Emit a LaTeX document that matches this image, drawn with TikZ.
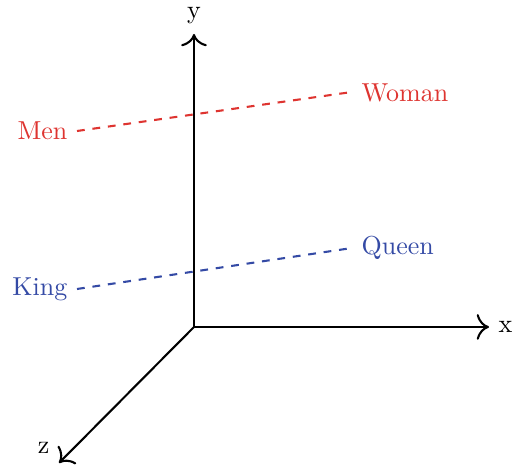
\documentclass[tikz,border=0pt]{standalone}
\usetikzlibrary{arrows.meta}
\definecolor{myred}{RGB}{222,52,48}
\definecolor{myblue}{RGB}{52,74,165}
\begin{document}
\begin{tikzpicture}[x=0.385pt,y=-0.385pt,
  axis/.style={thick,-{To[scale=1.4]}},
  wordline/.style={thick,dashed}]
\useasboundingbox (0,0) rectangle (519,468);
\coordinate (O) at (194,327);
\coordinate (X) at (489,327);
\coordinate (Y) at (194,34);
\coordinate (Z) at (59,463);
\draw[axis] (O) -- (X) node[right] (xl) {x};
\draw[axis] (O) -- (Y) node[above] (yl) {y};
\draw[axis] (O) -- (Z) node[above left] (zl) {z};
\coordinate (m1) at (77,131);
\coordinate (m2) at (352,92);
\coordinate (k1) at (77,289);
\coordinate (k2) at (352,248);
\draw[wordline,myred] (m1) node[left] (men) {Men} -- (m2) node[right,yshift=-0.5pt] (woman) {Woman};
\draw[wordline,myblue] (k1) node[left] (king) {King} -- (k2) node[right] (queen) {Queen};
\end{tikzpicture}
\end{document}
